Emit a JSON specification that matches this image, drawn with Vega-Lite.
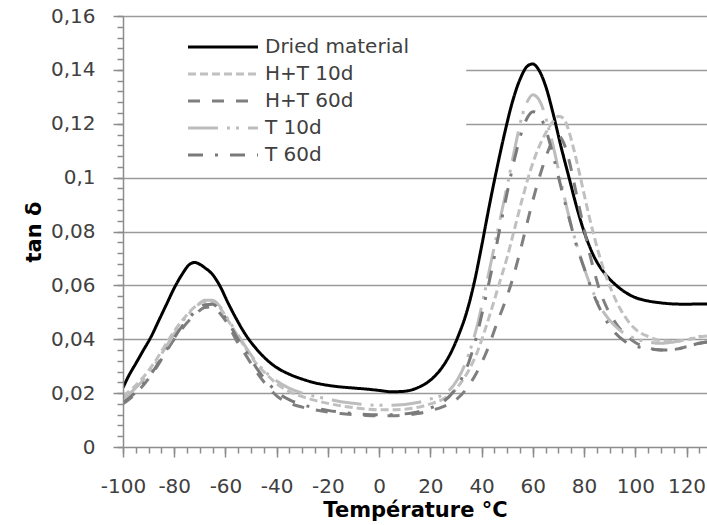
{
"$schema": "https://vega.github.io/schema/vega-lite/v6.json",
"width": 584, "height": 431,
"autosize": "none",
"padding": {"left": 123, "top": 16, "right": 0, "bottom": 78},
"background": "white",
"config": {"view": {"stroke": null}, "font": "DejaVu Sans"},
"datasets": {"curves": [
{"series":"Dried material","t":-100,"v":0.022},{"series":"Dried material","t":-98,"v":0.026},{"series":"Dried material","t":-95,"v":0.031},{"series":"Dried material","t":-92,"v":0.036},{"series":"Dried material","t":-89,"v":0.041},{"series":"Dried material","t":-86,"v":0.047},{"series":"Dried material","t":-83,"v":0.053},{"series":"Dried material","t":-80,"v":0.059},{"series":"Dried material","t":-77,"v":0.064},{"series":"Dried material","t":-74,"v":0.0678},{"series":"Dried material","t":-72,"v":0.0685},{"series":"Dried material","t":-70,"v":0.0678},{"series":"Dried material","t":-68,"v":0.0665},{"series":"Dried material","t":-65,"v":0.064},{"series":"Dried material","t":-62,"v":0.0595},{"series":"Dried material","t":-59,"v":0.0535},{"series":"Dried material","t":-56,"v":0.048},{"series":"Dried material","t":-52,"v":0.0415},{"series":"Dried material","t":-48,"v":0.0365},{"series":"Dried material","t":-44,"v":0.0325},{"series":"Dried material","t":-40,"v":0.0295},{"series":"Dried material","t":-35,"v":0.027},{"series":"Dried material","t":-30,"v":0.0252},{"series":"Dried material","t":-25,"v":0.0238},{"series":"Dried material","t":-20,"v":0.0229},{"series":"Dried material","t":-15,"v":0.0223},{"series":"Dried material","t":-10,"v":0.0219},{"series":"Dried material","t":-5,"v":0.0215},{"series":"Dried material","t":0,"v":0.021},{"series":"Dried material","t":5,"v":0.0205},{"series":"Dried material","t":10,"v":0.0207},{"series":"Dried material","t":15,"v":0.022},{"series":"Dried material","t":20,"v":0.0248},{"series":"Dried material","t":24,"v":0.0288},{"series":"Dried material","t":28,"v":0.035},{"series":"Dried material","t":31,"v":0.0415},{"series":"Dried material","t":34,"v":0.0495},{"series":"Dried material","t":37,"v":0.0605},{"series":"Dried material","t":40,"v":0.0745},{"series":"Dried material","t":43,"v":0.0895},{"series":"Dried material","t":46,"v":0.1035},{"series":"Dried material","t":49,"v":0.1165},{"series":"Dried material","t":52,"v":0.128},{"series":"Dried material","t":55,"v":0.1365},{"series":"Dried material","t":58,"v":0.1415},{"series":"Dried material","t":60,"v":0.1422},{"series":"Dried material","t":62,"v":0.1405},{"series":"Dried material","t":65,"v":0.134},{"series":"Dried material","t":68,"v":0.1235},{"series":"Dried material","t":71,"v":0.1115},{"series":"Dried material","t":74,"v":0.1005},{"series":"Dried material","t":77,"v":0.0895},{"series":"Dried material","t":80,"v":0.08},{"series":"Dried material","t":84,"v":0.0705},{"series":"Dried material","t":88,"v":0.0645},{"series":"Dried material","t":92,"v":0.0605},{"series":"Dried material","t":96,"v":0.0575},{"series":"Dried material","t":100,"v":0.0555},{"series":"Dried material","t":105,"v":0.0542},{"series":"Dried material","t":110,"v":0.0535},{"series":"Dried material","t":115,"v":0.0531},{"series":"Dried material","t":120,"v":0.053},{"series":"Dried material","t":125,"v":0.0531},{"series":"Dried material","t":128,"v":0.0531},
{"series":"H+T 10d","t":-100,"v":0.019},{"series":"H+T 10d","t":-96,"v":0.022},{"series":"H+T 10d","t":-92,"v":0.026},{"series":"H+T 10d","t":-88,"v":0.031},{"series":"H+T 10d","t":-84,"v":0.037},{"series":"H+T 10d","t":-80,"v":0.043},{"series":"H+T 10d","t":-76,"v":0.048},{"series":"H+T 10d","t":-72,"v":0.052},{"series":"H+T 10d","t":-68,"v":0.054},{"series":"H+T 10d","t":-65,"v":0.054},{"series":"H+T 10d","t":-62,"v":0.0515},{"series":"H+T 10d","t":-59,"v":0.047},{"series":"H+T 10d","t":-56,"v":0.0425},{"series":"H+T 10d","t":-52,"v":0.0365},{"series":"H+T 10d","t":-48,"v":0.031},{"series":"H+T 10d","t":-44,"v":0.027},{"series":"H+T 10d","t":-40,"v":0.0235},{"series":"H+T 10d","t":-35,"v":0.0205},{"series":"H+T 10d","t":-30,"v":0.0187},{"series":"H+T 10d","t":-25,"v":0.0173},{"series":"H+T 10d","t":-20,"v":0.0162},{"series":"H+T 10d","t":-15,"v":0.0153},{"series":"H+T 10d","t":-10,"v":0.0146},{"series":"H+T 10d","t":-5,"v":0.0141},{"series":"H+T 10d","t":0,"v":0.0138},{"series":"H+T 10d","t":5,"v":0.0138},{"series":"H+T 10d","t":10,"v":0.014},{"series":"H+T 10d","t":15,"v":0.0147},{"series":"H+T 10d","t":20,"v":0.016},{"series":"H+T 10d","t":25,"v":0.0178},{"series":"H+T 10d","t":29,"v":0.0205},{"series":"H+T 10d","t":32,"v":0.024},{"series":"H+T 10d","t":35,"v":0.0285},{"series":"H+T 10d","t":38,"v":0.0345},{"series":"H+T 10d","t":41,"v":0.0425},{"series":"H+T 10d","t":44,"v":0.0515},{"series":"H+T 10d","t":47,"v":0.061},{"series":"H+T 10d","t":50,"v":0.0705},{"series":"H+T 10d","t":53,"v":0.0815},{"series":"H+T 10d","t":56,"v":0.0925},{"series":"H+T 10d","t":59,"v":0.1025},{"series":"H+T 10d","t":62,"v":0.1105},{"series":"H+T 10d","t":65,"v":0.1165},{"series":"H+T 10d","t":68,"v":0.121},{"series":"H+T 10d","t":70,"v":0.1228},{"series":"H+T 10d","t":72,"v":0.122},{"series":"H+T 10d","t":74,"v":0.1175},{"series":"H+T 10d","t":76,"v":0.1105},{"series":"H+T 10d","t":78,"v":0.1025},{"series":"H+T 10d","t":80,"v":0.094},{"series":"H+T 10d","t":82,"v":0.0855},{"series":"H+T 10d","t":84,"v":0.078},{"series":"H+T 10d","t":86,"v":0.071},{"series":"H+T 10d","t":88,"v":0.065},{"series":"H+T 10d","t":91,"v":0.0575},{"series":"H+T 10d","t":94,"v":0.0515},{"series":"H+T 10d","t":97,"v":0.047},{"series":"H+T 10d","t":100,"v":0.0438},{"series":"H+T 10d","t":105,"v":0.041},{"series":"H+T 10d","t":110,"v":0.0395},{"series":"H+T 10d","t":115,"v":0.0392},{"series":"H+T 10d","t":120,"v":0.0398},{"series":"H+T 10d","t":125,"v":0.0408},{"series":"H+T 10d","t":128,"v":0.0412},
{"series":"H+T 60d","t":-100,"v":0.016},{"series":"H+T 60d","t":-96,"v":0.019},{"series":"H+T 60d","t":-92,"v":0.023},{"series":"H+T 60d","t":-88,"v":0.028},{"series":"H+T 60d","t":-84,"v":0.034},{"series":"H+T 60d","t":-80,"v":0.04},{"series":"H+T 60d","t":-76,"v":0.045},{"series":"H+T 60d","t":-72,"v":0.049},{"series":"H+T 60d","t":-68,"v":0.0518},{"series":"H+T 60d","t":-65,"v":0.052},{"series":"H+T 60d","t":-62,"v":0.0495},{"series":"H+T 60d","t":-59,"v":0.0455},{"series":"H+T 60d","t":-56,"v":0.04},{"series":"H+T 60d","t":-52,"v":0.034},{"series":"H+T 60d","t":-48,"v":0.028},{"series":"H+T 60d","t":-44,"v":0.023},{"series":"H+T 60d","t":-40,"v":0.019},{"series":"H+T 60d","t":-35,"v":0.0163},{"series":"H+T 60d","t":-30,"v":0.0148},{"series":"H+T 60d","t":-25,"v":0.0138},{"series":"H+T 60d","t":-20,"v":0.013},{"series":"H+T 60d","t":-15,"v":0.0124},{"series":"H+T 60d","t":-10,"v":0.012},{"series":"H+T 60d","t":-5,"v":0.0117},{"series":"H+T 60d","t":0,"v":0.0116},{"series":"H+T 60d","t":5,"v":0.0116},{"series":"H+T 60d","t":10,"v":0.0118},{"series":"H+T 60d","t":15,"v":0.0124},{"series":"H+T 60d","t":20,"v":0.0135},{"series":"H+T 60d","t":25,"v":0.015},{"series":"H+T 60d","t":30,"v":0.0175},{"series":"H+T 60d","t":34,"v":0.0215},{"series":"H+T 60d","t":38,"v":0.0275},{"series":"H+T 60d","t":42,"v":0.0355},{"series":"H+T 60d","t":46,"v":0.046},{"series":"H+T 60d","t":49,"v":0.0535},{"series":"H+T 60d","t":52,"v":0.062},{"series":"H+T 60d","t":55,"v":0.0725},{"series":"H+T 60d","t":58,"v":0.084},{"series":"H+T 60d","t":61,"v":0.095},{"series":"H+T 60d","t":64,"v":0.1045},{"series":"H+T 60d","t":66,"v":0.11},{"series":"H+T 60d","t":68,"v":0.114},{"series":"H+T 60d","t":70,"v":0.1155},{"series":"H+T 60d","t":72,"v":0.113},{"series":"H+T 60d","t":74,"v":0.107},{"series":"H+T 60d","t":76,"v":0.0985},{"series":"H+T 60d","t":78,"v":0.0895},{"series":"H+T 60d","t":80,"v":0.081},{"series":"H+T 60d","t":82,"v":0.0725},{"series":"H+T 60d","t":84,"v":0.065},{"series":"H+T 60d","t":86,"v":0.0585},{"series":"H+T 60d","t":89,"v":0.0515},{"series":"H+T 60d","t":92,"v":0.0465},{"series":"H+T 60d","t":95,"v":0.0428},{"series":"H+T 60d","t":100,"v":0.0388},{"series":"H+T 60d","t":105,"v":0.0368},{"series":"H+T 60d","t":110,"v":0.036},{"series":"H+T 60d","t":115,"v":0.0362},{"series":"H+T 60d","t":120,"v":0.0372},{"series":"H+T 60d","t":125,"v":0.0385},{"series":"H+T 60d","t":128,"v":0.039},
{"series":"T 10d","t":-100,"v":0.018},{"series":"T 10d","t":-96,"v":0.021},{"series":"T 10d","t":-92,"v":0.025},{"series":"T 10d","t":-88,"v":0.03},{"series":"T 10d","t":-84,"v":0.036},{"series":"T 10d","t":-80,"v":0.042},{"series":"T 10d","t":-76,"v":0.0475},{"series":"T 10d","t":-72,"v":0.0515},{"series":"T 10d","t":-68,"v":0.0545},{"series":"T 10d","t":-65,"v":0.0545},{"series":"T 10d","t":-62,"v":0.052},{"series":"T 10d","t":-59,"v":0.0475},{"series":"T 10d","t":-56,"v":0.043},{"series":"T 10d","t":-52,"v":0.037},{"series":"T 10d","t":-48,"v":0.0315},{"series":"T 10d","t":-44,"v":0.0275},{"series":"T 10d","t":-40,"v":0.0245},{"series":"T 10d","t":-35,"v":0.0218},{"series":"T 10d","t":-30,"v":0.02},{"series":"T 10d","t":-25,"v":0.0188},{"series":"T 10d","t":-20,"v":0.0178},{"series":"T 10d","t":-15,"v":0.0168},{"series":"T 10d","t":-10,"v":0.0162},{"series":"T 10d","t":-5,"v":0.0157},{"series":"T 10d","t":0,"v":0.0155},{"series":"T 10d","t":5,"v":0.0155},{"series":"T 10d","t":10,"v":0.0158},{"series":"T 10d","t":15,"v":0.0165},{"series":"T 10d","t":20,"v":0.0178},{"series":"T 10d","t":25,"v":0.0195},{"series":"T 10d","t":29,"v":0.0228},{"series":"T 10d","t":32,"v":0.0275},{"series":"T 10d","t":35,"v":0.0345},{"series":"T 10d","t":38,"v":0.044},{"series":"T 10d","t":41,"v":0.0565},{"series":"T 10d","t":44,"v":0.07},{"series":"T 10d","t":47,"v":0.0835},{"series":"T 10d","t":50,"v":0.097},{"series":"T 10d","t":53,"v":0.111},{"series":"T 10d","t":56,"v":0.1235},{"series":"T 10d","t":58,"v":0.1285},{"series":"T 10d","t":60,"v":0.1308},{"series":"T 10d","t":62,"v":0.1295},{"series":"T 10d","t":64,"v":0.1255},{"series":"T 10d","t":66,"v":0.119},{"series":"T 10d","t":68,"v":0.1115},{"series":"T 10d","t":71,"v":0.0985},{"series":"T 10d","t":74,"v":0.086},{"series":"T 10d","t":77,"v":0.0755},{"series":"T 10d","t":80,"v":0.0665},{"series":"T 10d","t":84,"v":0.0565},{"series":"T 10d","t":88,"v":0.0495},{"series":"T 10d","t":92,"v":0.045},{"series":"T 10d","t":96,"v":0.042},{"series":"T 10d","t":100,"v":0.0402},{"series":"T 10d","t":105,"v":0.039},{"series":"T 10d","t":110,"v":0.0385},{"series":"T 10d","t":115,"v":0.039},{"series":"T 10d","t":120,"v":0.0398},{"series":"T 10d","t":125,"v":0.041},{"series":"T 10d","t":128,"v":0.0415},
{"series":"T 60d","t":-100,"v":0.0165},{"series":"T 60d","t":-96,"v":0.0195},{"series":"T 60d","t":-92,"v":0.0235},{"series":"T 60d","t":-88,"v":0.0285},{"series":"T 60d","t":-84,"v":0.0345},{"series":"T 60d","t":-80,"v":0.0405},{"series":"T 60d","t":-76,"v":0.046},{"series":"T 60d","t":-72,"v":0.05},{"series":"T 60d","t":-68,"v":0.0528},{"series":"T 60d","t":-65,"v":0.053},{"series":"T 60d","t":-62,"v":0.0505},{"series":"T 60d","t":-59,"v":0.0465},{"series":"T 60d","t":-56,"v":0.0415},{"series":"T 60d","t":-52,"v":0.0355},{"series":"T 60d","t":-48,"v":0.0295},{"series":"T 60d","t":-44,"v":0.0245},{"series":"T 60d","t":-40,"v":0.0205},{"series":"T 60d","t":-35,"v":0.0175},{"series":"T 60d","t":-30,"v":0.0157},{"series":"T 60d","t":-25,"v":0.0145},{"series":"T 60d","t":-20,"v":0.0136},{"series":"T 60d","t":-15,"v":0.0129},{"series":"T 60d","t":-10,"v":0.0124},{"series":"T 60d","t":-5,"v":0.0121},{"series":"T 60d","t":0,"v":0.012},{"series":"T 60d","t":5,"v":0.012},{"series":"T 60d","t":10,"v":0.0123},{"series":"T 60d","t":15,"v":0.013},{"series":"T 60d","t":20,"v":0.0145},{"series":"T 60d","t":25,"v":0.0168},{"series":"T 60d","t":29,"v":0.0205},{"series":"T 60d","t":32,"v":0.025},{"series":"T 60d","t":35,"v":0.0315},{"series":"T 60d","t":38,"v":0.041},{"series":"T 60d","t":41,"v":0.053},{"series":"T 60d","t":44,"v":0.066},{"series":"T 60d","t":47,"v":0.0805},{"series":"T 60d","t":50,"v":0.0945},{"series":"T 60d","t":53,"v":0.1075},{"series":"T 60d","t":56,"v":0.118},{"series":"T 60d","t":58,"v":0.1225},{"series":"T 60d","t":60,"v":0.1245},{"series":"T 60d","t":62,"v":0.1238},{"series":"T 60d","t":64,"v":0.1205},{"series":"T 60d","t":66,"v":0.115},{"series":"T 60d","t":68,"v":0.108},{"series":"T 60d","t":71,"v":0.0965},{"series":"T 60d","t":74,"v":0.0855},{"series":"T 60d","t":77,"v":0.075},{"series":"T 60d","t":80,"v":0.0665},{"series":"T 60d","t":84,"v":0.056},{"series":"T 60d","t":88,"v":0.048},{"series":"T 60d","t":92,"v":0.0425},{"series":"T 60d","t":96,"v":0.0392},{"series":"T 60d","t":100,"v":0.0375},{"series":"T 60d","t":105,"v":0.0365},{"series":"T 60d","t":110,"v":0.036},{"series":"T 60d","t":115,"v":0.0362},{"series":"T 60d","t":120,"v":0.0372},{"series":"T 60d","t":125,"v":0.0385},{"series":"T 60d","t":128,"v":0.039}
]},
"layer": [
{
"data": {"values": [{}]},
"mark": {"type": "rect", "fill": "white"},
"encoding": {
"x": {"datum": -100, "type": "quantitative", "scale": {"domain": [-100, 128], "nice": false, "zero": false},
"axis": {"orient": "bottom", "values": [-100,-95,-90,-85,-80,-75,-70,-65,-60,-55,-50,-45,-40,-35,-30,-25,-20,-15,-10,-5,0,5,10,15,20,25,30,35,40,45,50,55,60,65,70,75,80,85,90,95,100,105,110,115,120,125],
"labels": false, "domain": false, "grid": false, "ticks": true, "tickSize": 6, "tickColor": "#8c8c8c", "tickWidth": 1.5, "title": null, "zindex": 1}},
"x2": {"datum": 34},
"y": {"datum": 0.104, "type": "quantitative", "scale": {"domain": [0, 0.16], "nice": false, "zero": true},
"axis": {"orient": "left", "values": [0.02,0.04,0.06,0.08,0.1,0.12,0.14,0.16], "grid": true, "gridColor": "#9a9a9a", "gridWidth": 1.5, "labels": false, "ticks": false, "domain": false, "title": null, "zindex": 0}},
"y2": {"datum": 0.155}
}
},
{
"data": {"name": "curves"},
"mark": {"type": "line", "strokeWidth": 3, "interpolate": "monotone", "clip": true},
"encoding": {
"x": {"field": "t", "type": "quantitative", "scale": {"domain": [-100, 128], "nice": false, "zero": false},
"axis": {"orient": "bottom", "values": [-100,-80,-60,-40,-20,0,20,40,60,80,100,120], "labelExpr": "'' + datum.value", "grid": false, "tickSize": 10, "tickColor": "#8c8c8c", "tickWidth": 1.5, "domainColor": "#8c8c8c", "domainWidth": 1.5, "labelFontSize": 20, "labelColor": "#404040", "labelPadding": 19, "labelFlush": false, "labelOverlap": false, "title": "Température °C", "titleFontSize": 21, "titleFontWeight": "bold", "titleColor": "black", "titlePadding": 3, "zindex": 1}},
"y": {"field": "v", "type": "quantitative", "scale": {"domain": [0, 0.16], "nice": false, "zero": true},
"axis": {"orient": "left", "values": [0,0.02,0.04,0.06,0.08,0.1,0.12,0.14,0.16], "labelExpr": "replace(format(datum.value, '~g'), '.', ',')", "grid": false, "tickSize": 10, "tickColor": "#8c8c8c", "tickWidth": 1.5, "domainColor": "#8c8c8c", "domainWidth": 1.5, "labelFontSize": 20, "labelColor": "#404040", "labelPadding": 18, "labelFlush": false, "title": "tan δ", "titleFontSize": 21, "titleFontWeight": "bold", "titleColor": "black", "titlePadding": 6, "zindex": 1}},
"color": {"field": "series", "type": "nominal",
"scale": {"domain": ["Dried material","H+T 10d","H+T 60d","T 10d","T 60d"], "range": ["#000000","#c0c0c0","#7f7f7f","#bdbdbd","#7a7a7a"]},
"legend": {"orient": "none", "legendX": 65, "legendY": 21, "title": null, "symbolType": "M-5,0H5", "symbolSize": 196, "symbolStrokeWidth": 3, "symbolOffset": 25, "labelFontSize": 20, "labelColor": "#404040", "labelOffset": 32, "rowPadding": 7, "padding": 0}},
"strokeDash": {"field": "series", "type": "nominal",
"scale": {"domain": ["Dried material","H+T 10d","H+T 60d","T 10d","T 60d"], "range": [[1,0],[8,4],[12,12],[30,9,3,6,3,9],[15,12,3,12]]},
"legend": {"orient": "none", "legendX": 65, "legendY": 21, "title": null, "symbolType": "M-5,0H5", "symbolSize": 196, "symbolStrokeWidth": 3, "symbolOffset": 25, "labelFontSize": 20, "labelColor": "#404040", "labelOffset": 32, "rowPadding": 7, "padding": 0}}
}
},
{
"data": {"values": [{}]},
"mark": {"type": "point", "opacity": 0},
"encoding": {
"x": {"datum": 0, "type": "quantitative", "scale": {"domain": [-100, 128], "nice": false, "zero": false}, "axis": null},
"y": {"datum": 0, "type": "quantitative", "scale": {"domain": [0, 0.16], "nice": false, "zero": true},
"axis": {"orient": "left", "values": [0,0.004,0.008,0.012,0.016,0.02,0.024,0.028,0.032,0.036,0.04,0.044,0.048,0.052,0.056,0.06,0.064,0.068,0.072,0.076,0.08,0.084,0.088,0.092,0.096,0.1,0.104,0.108,0.112,0.116,0.12,0.124,0.128,0.132,0.136,0.14,0.144,0.148,0.152,0.156,0.16],
"labels": false, "domain": false, "grid": false, "ticks": true, "tickSize": 6, "tickColor": "#8c8c8c", "tickWidth": 1.5, "title": null, "zindex": 1}}
}
}
],
"resolve": {"axis": {"x": "independent", "y": "independent"}}
}
